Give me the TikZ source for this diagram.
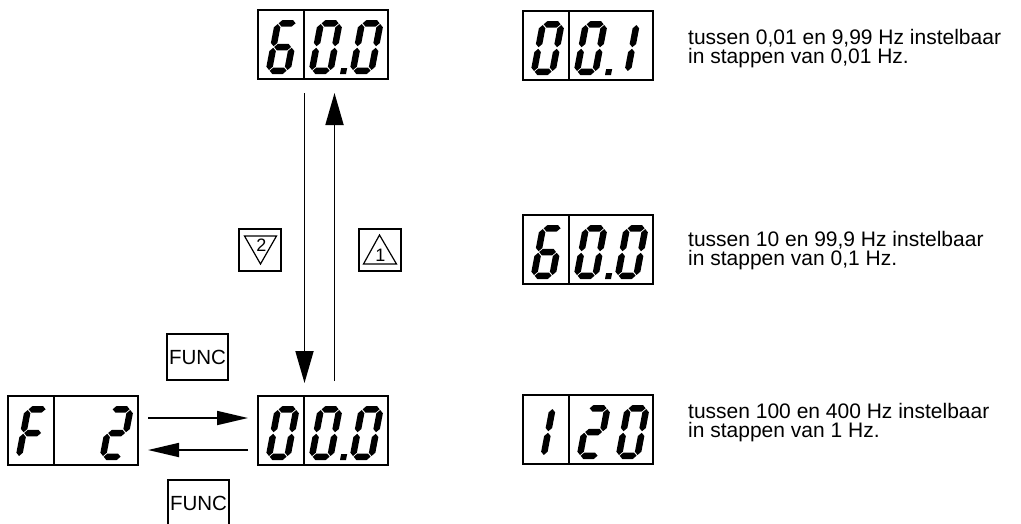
\documentclass[tikz,border=0pt]{standalone}
\usepackage{fontspec}
\setmainfont{Liberation Sans}
\usetikzlibrary{arrows.meta}

% seven-segment pieces in upright digit coordinates (25 x 54, bars 6.5 thick); the pics add the slant
\newcommand\hsg[1]{\fill (4.05,#1) -- (7.3,#1+3.25) -- (17.7,#1+3.25) -- (20.95,#1) -- (17.7,#1-3.25) -- (7.3,#1-3.25) -- cycle;}
\newcommand\vsg[3]{\fill (#1,#2+0.8) -- (#1+3.25,#2+4.05) -- (#1+3.25,#3-4.05) -- (#1,#3-0.8) -- (#1-3.25,#3-4.05) -- (#1-3.25,#2+4.05) -- cycle;}
\newcommand\segA{\hsg{50.75}}
\newcommand\segG{\hsg{27}}
\newcommand\segD{\hsg{3.25}}
\newcommand\segF{\vsg{3.25}{27}{50.75}}
\newcommand\segE{\vsg{3.25}{3.25}{27}}
\newcommand\segB{\vsg{21.75}{27}{50.75}}
\newcommand\segC{\vsg{21.75}{3.25}{27}}
% divider between the first and the second field of a display
\newcommand\lcdsplit[1]{\draw[line width=1.6pt] ([xshift=46pt]#1.north west) -- ([xshift=46pt]#1.south west);}

\tikzset{
  dig0/.pic={\begin{scope}[xslant=0.19]\segA\segB\segC\segD\segE\segF\end{scope}},
  dig2/.pic={\begin{scope}[xslant=0.19]\segA\segB\segG\segE\segD\end{scope}},
  dig6/.pic={\begin{scope}[xslant=0.19]\segA\segF\segG\segE\segD\segC\end{scope}},
  digF/.pic={\begin{scope}[xslant=0.19]\segA\segF\segG\segE\end{scope}},
  dig1/.pic={\begin{scope}[xslant=0.19]\vsg{13}{27}{50.75}\vsg{13}{3.25}{27}\end{scope}},
  dpt/.pic={\begin{scope}[xslant=0.19]\fill (0,0) rectangle (6,6);\end{scope}},
  lcd/.style={draw, line width=1.6pt, minimum width=130pt, minimum height=69pt,
    inner sep=0pt, outer sep=0pt, anchor=north west},
  keybox/.style={draw, line width=1.2pt, minimum width=61pt, minimum height=46pt,
    inner sep=0pt, outer sep=0pt, anchor=north west, font=\fontsize{20.5}{20}\selectfont},
  symbox/.style={draw, line width=1.2pt, minimum width=42pt, minimum height=42pt,
    inner sep=0pt, outer sep=0pt, anchor=north west},
  sym/.style={line width=1.2pt, line join=miter},
  symnum/.style={inner sep=0pt, font=\fontsize{18}{18}\selectfont},
  varr/.style={line width=1.8pt, -{Triangle[length=32pt,width=18pt]}},
  harr/.style={line width=1.8pt, -{Triangle[length=31pt,width=14pt]}},
  txt/.style={anchor=north west, inner sep=0pt, align=left,
    font=\fontsize{21}{19}\selectfont}
}

\begin{document}
\begin{tikzpicture}[x=1pt,y=1pt]
\fill[white] (0,0) rectangle (1021,-523);
\useasboundingbox (0,0) rectangle (1021,-523);

% ---- left part: menu display, set value display and the set point
\node[lcd] (top) at (258,-10) {};
\lcdsplit{top}
\pic at ([shift={(7,5)}]top.south west) {dig6};
\pic at ([shift={(50,5)}]top.south west) {dig0};
\pic at ([shift={(82,5)}]top.south west) {dpt};
\pic at ([shift={(91,5)}]top.south west) {dig0};

\node[lcd] (mid) at (258,-396) {};
\lcdsplit{mid}
\pic at ([shift={(7,5)}]mid.south west) {dig0};
\pic at ([shift={(50,5)}]mid.south west) {dig0};
\pic at ([shift={(82,5)}]mid.south west) {dpt};
\pic at ([shift={(91,5)}]mid.south west) {dig0};

\node[lcd] (fn) at (8,-396) {};
\lcdsplit{fn}
\pic at ([shift={(7,5)}]fn.south west) {digF};
\pic at ([shift={(91,5)}]fn.south west) {dig2};

% keys
\node[keybox] (funcA) at (167,-334) {FUNC};
\node[keybox] (funcB) at (168,-480) {FUNC};

\node[symbox] (kdown) at (239,-229) {};
\draw[sym] ([shift={(-15.5,14)}]kdown.center) -- ([shift={(16.5,14)}]kdown.center)
  -- ([shift={(0.5,-14)}]kdown.center) -- cycle;
\node[symnum] (kdownnum) at ([shift={(1.5,5)}]kdown.center) {2};

\node[symbox] (kup) at (359,-229) {};
\draw[sym] ([shift={(-0.5,15)}]kup.center) -- ([shift={(16.5,-14)}]kup.center)
  -- ([shift={(-16.5,-14)}]kup.center) -- cycle;
\node[symnum] (kupnum) at ([shift={(0.5,-5)}]kup.center) {1};

% connectors
\draw[varr] ([xshift=-18.5pt,yshift=-14pt]top.south) -- ([xshift=-18.5pt,yshift=13pt]mid.north);
\draw[varr] ([xshift=11.5pt,yshift=15pt]mid.north) -- ([xshift=11.5pt,yshift=-14pt]top.south);
\draw[harr] ([xshift=10pt,yshift=12.5pt]fn.east) -- ([xshift=-10pt,yshift=12.5pt]mid.west);
\draw[harr] ([xshift=-10pt,yshift=-19.5pt]mid.west) -- ([xshift=10pt,yshift=-19.5pt]fn.east);

% ---- right part: display ranges
\node[lcd] (r1) at (523,-11) {};
\lcdsplit{r1}
\pic at ([shift={(7,5)}]r1.south west) {dig0};
\pic at ([shift={(50,5)}]r1.south west) {dig0};
\pic at ([shift={(82,5)}]r1.south west) {dpt};
\pic at ([shift={(91,5)}]r1.south west) {dig1};

\node[lcd] (r2) at (523,-215) {};
\lcdsplit{r2}
\pic at ([shift={(7,5)}]r2.south west) {dig6};
\pic at ([shift={(50,5)}]r2.south west) {dig0};
\pic at ([shift={(82,5)}]r2.south west) {dpt};
\pic at ([shift={(91,5)}]r2.south west) {dig0};

\node[lcd] (r3) at (523,-395) {};
\lcdsplit{r3}
\pic at ([shift={(7,5)}]r3.south west) {dig1};
\pic at ([shift={(53,5)}]r3.south west) {dig2};
\pic at ([shift={(92,5)}]r3.south west) {dig0};

\node[txt] (t1) at (688,-29) {tussen 0,01 en 9,99 Hz instelbaar\\in stappen van 0,01 Hz.};
\node[txt] (t2) at (688,-231) {tussen 10 en 99,9 Hz instelbaar\\in stappen van 0,1 Hz.};
\node[txt] (t3) at (688,-403) {tussen 100 en 400 Hz instelbaar\\in stappen van 1 Hz.};
\end{tikzpicture}
\end{document}
